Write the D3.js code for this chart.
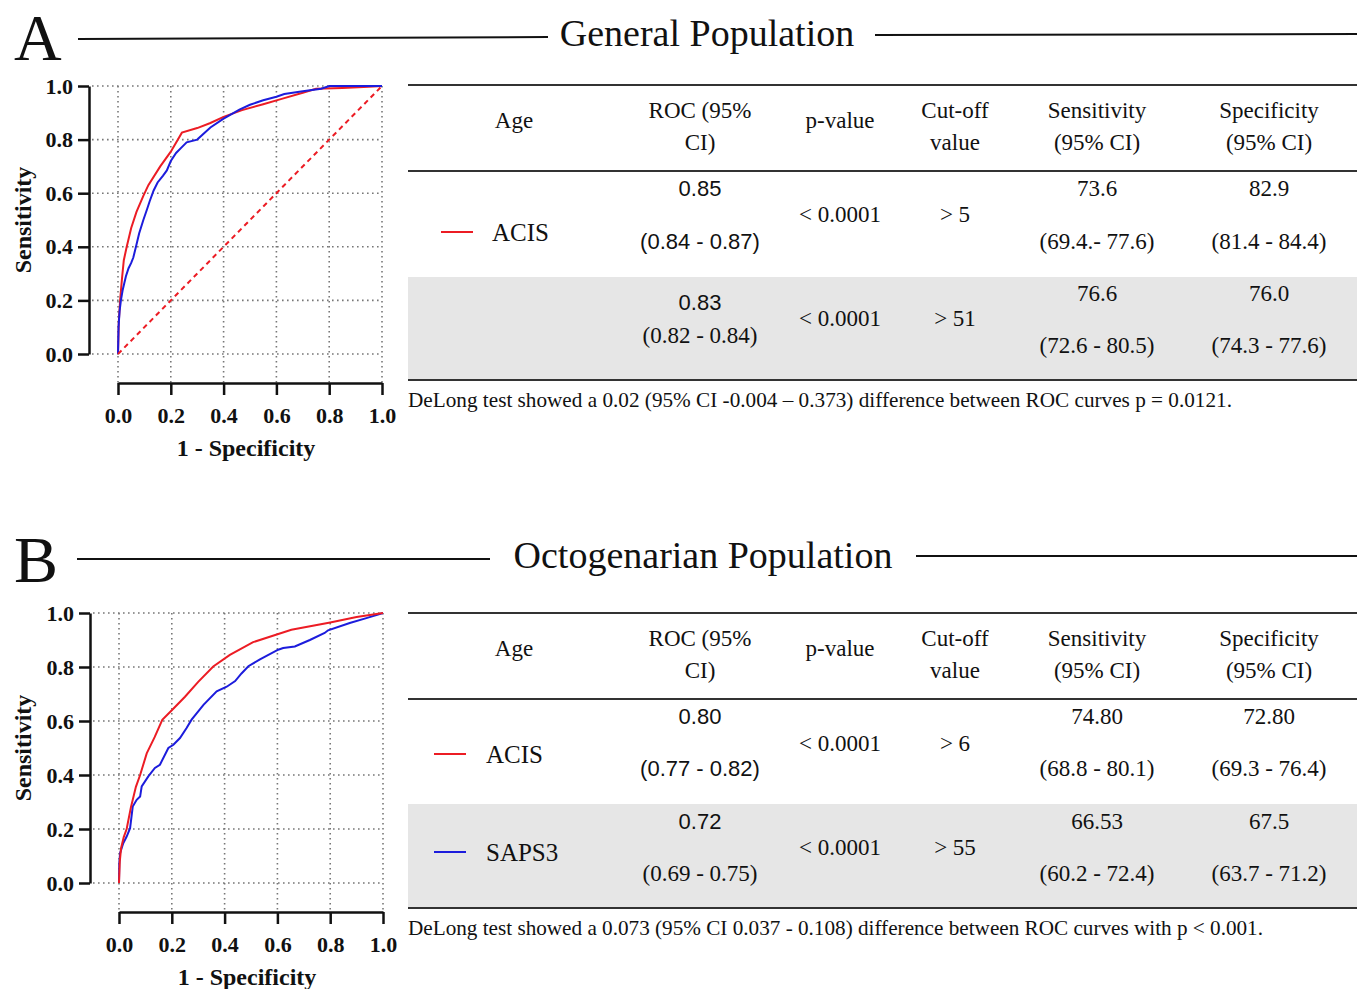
<!DOCTYPE html>
<html>
<head>
<meta charset="utf-8">
<script src="https://cdn.jsdelivr.net/npm/d3@7"></script>
<style>
  body { margin: 0; background: #fff; }
  text { font-family: "Liberation Serif", "Times New Roman", serif; fill: #111; }
</style>
</head>
<body>
<script>
/*
 * ROC points, [1 - specificity, sensitivity]
 */
const acisGeneral = [[0,0],[0.003,0.12],[0.008,0.2],[0.015,0.28],[0.022,0.35],[0.033,0.4],[0.05,0.47],[0.07,0.53],[0.096,0.59],[0.115,0.63],[0.16,0.7],[0.2,0.755],[0.242,0.826],[0.3,0.843],[0.35,0.862],[0.4,0.885],[0.47,0.91],[0.55,0.932],[0.62,0.952],[0.7,0.975],[0.75,0.99],[0.85,0.993],[0.95,0.997],[1,1]];
const saps3General = [[0,0],[0.002,0.1],[0.006,0.16],[0.011,0.2],[0.018,0.24],[0.024,0.265],[0.03,0.29],[0.04,0.32],[0.05,0.34],[0.058,0.36],[0.068,0.4],[0.08,0.45],[0.096,0.5],[0.11,0.54],[0.12,0.57],[0.135,0.61],[0.15,0.64],[0.17,0.665],[0.185,0.685],[0.2,0.72],[0.22,0.75],[0.24,0.77],[0.26,0.79],[0.3,0.8],[0.35,0.845],[0.4,0.878],[0.46,0.912],[0.5,0.93],[0.55,0.947],[0.6,0.96],[0.63,0.97],[0.7,0.98],[0.77,0.99],[0.8,1.0],[1,1]];
const chanceGeneral = [[0,0],[1,1]];

const acisOcto = [[0,0],[0.003,0.08],[0.008,0.13],[0.018,0.17],[0.029,0.2],[0.045,0.28],[0.064,0.356],[0.08,0.4],[0.105,0.48],[0.135,0.54],[0.164,0.604],[0.2,0.64],[0.25,0.69],[0.3,0.745],[0.357,0.802],[0.42,0.845],[0.508,0.892],[0.58,0.915],[0.653,0.938],[0.8,0.965],[0.9,0.985],[1,1]];
const saps3Octo = [[0,0],[0.001,0.07],[0.004,0.11],[0.016,0.147],[0.029,0.172],[0.042,0.203],[0.052,0.283],[0.067,0.308],[0.08,0.32],[0.086,0.358],[0.111,0.395],[0.136,0.426],[0.155,0.438],[0.187,0.5],[0.206,0.512],[0.231,0.537],[0.256,0.574],[0.275,0.605],[0.32,0.66],[0.37,0.71],[0.408,0.727],[0.44,0.748],[0.464,0.776],[0.49,0.803],[0.534,0.828],[0.603,0.864],[0.622,0.87],[0.666,0.876],[0.723,0.9],[0.779,0.926],[0.792,0.936],[0.874,0.963],[0.937,0.981],[1,1]];

const axisTicks = [0, 0.2, 0.4, 0.6, 0.8, 1.0];

/*
 * Table text
 */
const tableHeader = [["Age"], ["ROC (95%", "CI)"], ["p-value"], ["Cut-off", "value"], ["Sensitivity", "(95% CI)"], ["Specificity", "(95% CI)"]];

const labelsGeneral = ["ACIS", ""];
const rocGeneral = ["0.85", "0.83"];
const rocCIGeneral = ["(0.84 - 0.87)", "(0.82 - 0.84)"];
const pGeneral = ["< 0.0001", "< 0.0001"];
const cutoffGeneral = ["> 5", "> 51"];
const sensGeneral = ["73.6", "76.6"];
const sensCIGeneral = ["(69.4.- 77.6)", "(72.6 - 80.5)"];
const specGeneral = ["82.9", "76.0"];
const specCIGeneral = ["(81.4 - 84.4)", "(74.3 - 77.6)"];
const noteGeneral = "DeLong test showed a 0.02 (95% CI -0.004 \u2013 0.373) difference between ROC curves p = 0.0121.";

const labelsOcto = ["ACIS", "SAPS3"];
const rocOcto = ["0.80", "0.72"];
const rocCIOcto = ["(0.77 - 0.82)", "(0.69 - 0.75)"];
const pOcto = ["< 0.0001", "< 0.0001"];
const cutoffOcto = ["> 6", "> 55"];
const sensOcto = ["74.80", "66.53"];
const sensCIOcto = ["(68.8 - 80.1)", "(60.2 - 72.4)"];
const specOcto = ["72.80", "67.5"];
const specCIOcto = ["(69.3 - 76.4)", "(63.7 - 71.2)"];
const noteOcto = "DeLong test showed a 0.073 (95% CI 0.037 - 0.108) difference between ROC curves with p < 0.001.";

/*
 * Layout
 */
const RED = "#ec1c24", BLUE = "#1c1cdc";
const SANS = '"Liberation Sans", Arial, sans-serif';
const colX = [514, 700, 840, 955, 1097, 1269];

const svg = d3.select('body').append('svg')
  .attr('width', 1357)
  .attr('height', 989);

const panels = [
  {
    letter: "A", letterY: 60, title: "General Population", titleX: 707, titleY: 46,
    lineL: [78, 548, 39, 37], lineR: [875, 1357, 35, 34],
    plot: { x0: 118, x1: 382, y0: 354, y1: 86, yAxisX: 89, xAxisY: 383 },
    curves: [
      { data: acisGeneral, color: RED, dash: null },
      { data: saps3General, color: BLUE, dash: null },
      { data: chanceGeneral, color: RED, dash: "5,4" }
    ],
    table: { top: 85, head: 171, band: 277, bottom: 380, note: 400 },
    legendX: 441, labelX: 492,
    rows: [
      { l1: 17, l2: 70, mid: 43, lab: 61, r1: 17, r2: 70, color: RED },
      { l1: 16, l2: 68, mid: 41, lab: 48, r1: 25, r2: 58, color: BLUE }
    ],
    labels: labelsGeneral, roc: rocGeneral, rocCI: rocCIGeneral, p: pGeneral, cutoff: cutoffGeneral,
    sens: sensGeneral, sensCI: sensCIGeneral, spec: specGeneral, specCI: specCIGeneral,
    note: noteGeneral, noteLen: 824, sansRoc: [[true, true], [true, false]]
  },
  {
    letter: "B", letterY: 582, title: "Octogenarian Population", titleX: 703, titleY: 568,
    lineL: [77, 490, 559, 559], lineR: [916, 1357, 556, 556],
    plot: { x0: 119, x1: 383, y0: 883, y1: 613, yAxisX: 90, xAxisY: 912 },
    curves: [
      { data: saps3Octo, color: BLUE, dash: null },
      { data: acisOcto, color: RED, dash: null }
    ],
    table: { top: 613, head: 699, band: 804, bottom: 908, note: 928 },
    legendX: 434, labelX: 486,
    rows: [
      { l1: 17, l2: 69, mid: 44, lab: 55, r1: 17, r2: 69, color: RED },
      { l1: 17, l2: 69, mid: 43, lab: 48, r1: 17, r2: 69, color: BLUE }
    ],
    labels: labelsOcto, roc: rocOcto, rocCI: rocCIOcto, p: pOcto, cutoff: cutoffOcto,
    sens: sensOcto, sensCI: sensCIOcto, spec: specOcto, specCI: specCIOcto,
    note: noteOcto, noteLen: 855, sansRoc: [[true, true], [true, false]]
  }
];

panels.forEach(drawPanel);

function drawPanel(p) {
  const g = svg.append('g');

  /* header: letter, rule, title, rule */
  g.append('text')
    .attr('x', 14).attr('y', p.letterY)
    .style('font-size', '66px')
    .text(p.letter);

  [p.lineL, p.lineR].forEach(l => {
    g.append('line')
      .attr('x1', l[0]).attr('x2', l[1])
      .attr('y1', l[2]).attr('y2', l[3])
      .attr('stroke', '#111').attr('stroke-width', 2);
  });

  g.append('text')
    .attr('x', p.titleX).attr('y', p.titleY)
    .attr('text-anchor', 'middle')
    .style('font-size', '38px')
    .text(p.title);

  /* ROC plot */
  const pl = p.plot;
  const x = d3.scaleLinear().domain([0, 1]).range([pl.x0, pl.x1]);
  const y = d3.scaleLinear().domain([0, 1]).range([pl.y0, pl.y1]);

  const grid = g.append('g')
    .attr('stroke', '#777')
    .attr('stroke-width', 1.6)
    .attr('stroke-dasharray', '1.6,3.4');

  grid.selectAll('.gx').data(axisTicks).enter().append('line')
    .attr('x1', d => x(d)).attr('x2', d => x(d))
    .attr('y1', y(1)).attr('y2', pl.xAxisY);

  grid.selectAll('.gy').data(axisTicks).enter().append('line')
    .attr('x1', pl.yAxisX + 3).attr('x2', x(1) - 2)
    .attr('y1', d => y(d)).attr('y2', d => y(d));

  const yAxis = g.append('g')
    .attr('transform', `translate(${pl.yAxisX},0)`)
    .call(d3.axisLeft(y).tickValues(axisTicks).tickFormat(d3.format('.1f'))
      .tickSize(11).tickPadding(5).tickSizeOuter(0));

  const xAxis = g.append('g')
    .attr('transform', `translate(0,${pl.xAxisY})`)
    .call(d3.axisBottom(x).tickValues(axisTicks).tickFormat(d3.format('.1f'))
      .tickSize(12).tickPadding(12).tickSizeOuter(0));

  [yAxis, xAxis].forEach(a => {
    a.select('.domain').attr('stroke', '#111').attr('stroke-width', 2.5);
    a.selectAll('.tick line').attr('stroke', '#111').attr('stroke-width', 2.5);
    a.selectAll('.tick text')
      .style('font-family', '"Liberation Serif", "Times New Roman", serif')
      .style('font-weight', 'bold')
      .style('font-size', '22px')
      .attr('fill', '#111');
  });

  g.append('text')
    .attr('transform', `translate(31,${(pl.y0 + pl.y1) / 2}) rotate(-90)`)
    .attr('text-anchor', 'middle')
    .style('font-weight', 'bold')
    .style('font-size', '24px')
    .text('Sensitivity');

  g.append('text')
    .attr('x', (pl.x0 + pl.x1) / 2 - 4)
    .attr('y', pl.xAxisY + 73)
    .attr('text-anchor', 'middle')
    .style('font-weight', 'bold')
    .style('font-size', '24px')
    .text('1 - Specificity');

  const line = d3.line().x(d => x(d[0])).y(d => y(d[1]));

  g.selectAll('.roc').data(p.curves).enter().append('path')
    .attr('d', d => line(d.data))
    .attr('fill', 'none')
    .attr('stroke', d => d.color)
    .attr('stroke-width', 2)
    .attr('stroke-dasharray', d => d.dash);

  /* table */
  const t = p.table;
  g.append('rect')
    .attr('x', 408).attr('y', t.band)
    .attr('width', 1357 - 408).attr('height', t.bottom - t.band)
    .attr('fill', '#e6e6e6');

  [t.top, t.head, t.bottom].forEach(yy => {
    g.append('line')
      .attr('x1', 408).attr('x2', 1357)
      .attr('y1', yy).attr('y2', yy)
      .attr('stroke', '#333').attr('stroke-width', 2);
  });

  const cell = (txt, cx, cy, font) => {
    const el = g.append('text')
      .attr('x', cx).attr('y', cy).attr('dy', '0.35em')
      .attr('text-anchor', 'middle')
      .style('font-size', font ? '22px' : '23px')
      .text(txt);
    if (font) el.style('font-family', font);
    return el;
  };

  tableHeader.forEach((h, i) => {
    if (h.length === 1) cell(h[0], colX[i], t.top + 35);
    else {
      cell(h[0], colX[i], t.top + 25);
      cell(h[1], colX[i], t.top + 57);
    }
  });

  const rowTops = [t.head, t.band];
  p.rows.forEach((r, i) => {
    const top = rowTops[i];
    if (p.labels[i]) {
      g.append('line')
        .attr('x1', p.legendX).attr('x2', p.legendX + 32)
        .attr('y1', top + r.lab).attr('y2', top + r.lab)
        .attr('stroke', r.color).attr('stroke-width', 2);
      g.append('text')
        .attr('x', p.labelX).attr('y', top + r.lab).attr('dy', '0.35em')
        .style('font-size', '25px')
        .text(p.labels[i]);
    }
    cell(p.roc[i], colX[1], top + r.r1, p.sansRoc[i][0] ? SANS : null);
    cell(p.rocCI[i], colX[1], top + r.r2, p.sansRoc[i][1] ? SANS : null);
    cell(p.p[i], colX[2], top + r.mid);
    cell(p.cutoff[i], colX[3], top + r.mid);
    cell(p.sens[i], colX[4], top + r.l1);
    cell(p.sensCI[i], colX[4], top + r.l2);
    cell(p.spec[i], colX[5], top + r.l1);
    cell(p.specCI[i], colX[5], top + r.l2);
  });

  g.append('text')
    .attr('x', 408).attr('y', t.note).attr('dy', '0.35em')
    .attr('textLength', p.noteLen)
    .attr('lengthAdjust', 'spacingAndGlyphs')
    .style('font-size', '21px')
    .text(p.note);
}
</script>
</body>
</html>
